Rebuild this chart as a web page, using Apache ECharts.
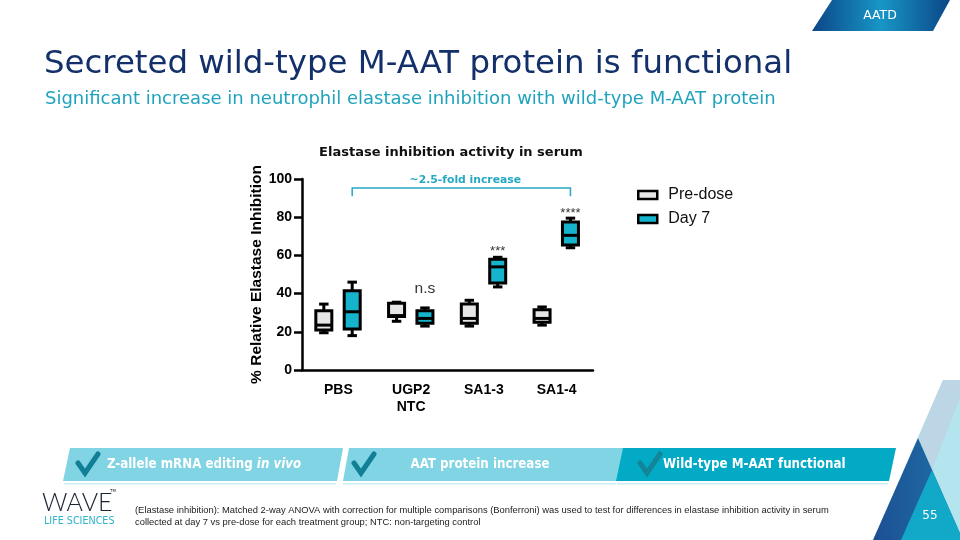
<!DOCTYPE html>
<html><head><meta charset="utf-8">
<script src="https://cdn.jsdelivr.net/npm/echarts@6/dist/echarts.min.js"></script>
<style>html,body{margin:0;padding:0;background:#fff;}#c{width:960px;height:540px;}</style>
</head><body><div id="c"></div>
<script>
// ---- data ----
const categories = ['PBS', 'UGP2\nNTC', 'SA1-3', 'SA1-4'];
const seriesNames = ['Pre-dose', 'Day 7'];
// each row: [min, Q1, median, Q3, max]
const preDose = [[19.5, 21, 23.5, 31, 34.5], [25.5, 28, 28.5, 35, 35.5], [23, 24.5, 27, 34.5, 36.5], [23.5, 25, 27, 31.5, 33]];
const day7 = [[18, 21.5, 30.5, 41.5, 46], [23, 24.5, 27, 31, 32.5], [43.5, 45.5, 54, 58, 59], [64, 65.5, 70.5, 77.5, 79.5]];
const yTicks = [0, 20, 40, 60, 80, 100];
const sigLabels = ['n.s', '***', '****'];
const sigCats = [1, 2, 3];
const sigY = [42.5, 62, 82];
const bracketCats = [0, 3];
const bracketLevels = [95.3, 91];
const bracketLabel = '~2.5-fold increase';
const bracketLabelY = 99.6;

const PRE_FILL = '#e6e6e6', D7_FILL = '#16b3cc', TEAL = '#25a8c2';
const OFF_PRE = -0.2, OFF_D7 = 0.19;

function boxRenderer(offsetFrac, fill) {
  return function (params, api) {
    const cat = api.value(0);
    const band = api.size([1, 0])[0];
    const cx = api.coord([cat, 0])[0] + offsetFrac * band;
    const bw = band * 0.22, cw = band * 0.13;
    const y = i => api.coord([cat, api.value(i)])[1];
    const yMin = y(1), yQ1 = y(2), yMed = y(3), yQ3 = y(4), yMax = y(5);
    const ls = { stroke: '#000', lineWidth: 3 };
    return { type: 'group', children: [
      { type: 'line', shape: { x1: cx, y1: yMax, x2: cx, y2: yQ3 }, style: ls },
      { type: 'line', shape: { x1: cx, y1: yQ1, x2: cx, y2: yMin }, style: ls },
      { type: 'line', shape: { x1: cx - cw / 2, y1: yMax, x2: cx + cw / 2, y2: yMax }, style: ls },
      { type: 'line', shape: { x1: cx - cw / 2, y1: yMin, x2: cx + cw / 2, y2: yMin }, style: ls },
      { type: 'rect', shape: { x: cx - bw / 2, y: yQ3, width: bw, height: yQ1 - yQ3 }, style: { fill: fill, stroke: '#000', lineWidth: 3 } },
      { type: 'line', shape: { x1: cx - bw / 2, y1: yMed, x2: cx + bw / 2, y2: yMed }, style: ls }
    ] };
  };
}

const chart = echarts.init(document.getElementById('c'), null, { renderer: 'canvas' });

const graphics = [
  // top-right tab
  { type: 'polygon', shape: { points: [[812, 31], [832, 0], [950, 0], [933, 31]] },
    style: { fill: new echarts.graphic.LinearGradient(0, 0, 1, 0, [{ offset: 0, color: '#0b4687' }, { offset: 0.5, color: '#1896c6' }, { offset: 1, color: '#0b4687' }]) } },
  { type: 'text', x: 880, y: 16, style: { text: 'AATD', fill: '#fff', font: '12.5px "DejaVu Sans"', align: 'center', verticalAlign: 'middle' } },
  // titles
  { type: 'text', x: 44, y: 65, style: { text: 'Secreted wild-type M-AAT protein is functional', fill: '#13306b', font: '32.4px "DejaVu Sans"', verticalAlign: 'middle' } },
  { type: 'text', x: 45, y: 99, style: { text: 'Significant increase in neutrophil elastase inhibition with wild-type M-AAT protein', fill: '#1fa3bd', font: '18px "DejaVu Sans"', verticalAlign: 'middle' } },
  // right decoration
  { type: 'polygon', shape: { points: [[943, 380], [960, 380], [960, 540], [873, 540]] }, style: { fill: '#b4e4ee' } },
  { type: 'polygon', shape: { points: [[943, 380], [960, 380], [960, 398], [932, 470], [918, 438]] }, style: { fill: '#bcd6e6' } },
  { type: 'polygon', shape: { points: [[918, 438], [873, 540], [963, 540]] }, style: { fill: new echarts.graphic.LinearGradient(0, 0, 1, 0, [{ offset: 0, color: '#1c4f94' }, { offset: 1, color: '#1f74a8' }]) } },
  { type: 'polygon', shape: { points: [[932, 470], [901, 540], [963, 540]] }, style: { fill: '#12a9c8' } },
  { type: 'text', x: 930, y: 516, style: { text: '55', fill: '#fff', font: '12px "DejaVu Sans"', align: 'center', verticalAlign: 'middle' } },
  // banner
  { type: 'polygon', shape: { points: [[70, 448], [343, 448], [337, 481], [63, 481]] }, style: { fill: '#80d4e3' } },
  { type: 'polygon', shape: { points: [[349, 448], [624, 448], [618, 481], [343, 481]] }, style: { fill: '#80d4e3' } },
  { type: 'polygon', shape: { points: [[623, 448], [896, 448], [889, 481], [616, 481]] }, style: { fill: '#03aac6' } },
  { type: 'rect', shape: { x: 64, y: 483, width: 272, height: 1.5 }, style: { fill: '#c8eef5' } },
  { type: 'rect', shape: { x: 343, y: 483, width: 273, height: 1.5 }, style: { fill: '#c8eef5' } },
  { type: 'rect', shape: { x: 617, y: 483, width: 271, height: 1.5 }, style: { fill: '#c8eef5' } },
  { type: 'polyline', shape: { points: [[78, 463], [85, 473], [98, 454]] }, style: { stroke: '#117f95', lineWidth: 5, fill: null, lineCap: 'round', lineJoin: 'miter' } },
  { type: 'polyline', shape: { points: [[354, 463], [361, 473], [374, 454]] }, style: { stroke: '#117f95', lineWidth: 5, fill: null, lineCap: 'round' } },
  { type: 'polyline', shape: { points: [[640, 463], [647, 473], [660, 454]] }, style: { stroke: '#157f90', lineWidth: 5, fill: null, lineCap: 'round', opacity: 0.85 } },
  { type: 'text', x: 107, y: 465, style: { text: '{a|Z-allele mRNA editing }{b|in vivo}', verticalAlign: 'middle',
      rich: { a: { fill: '#fff', font: 'bold 13.2px "DejaVu Sans Condensed"' }, b: { fill: '#fff', font: 'italic bold 13.2px "DejaVu Sans Condensed"' } } } },
  { type: 'text', x: 480, y: 465, style: { text: 'AAT protein increase', fill: '#fff', font: 'bold 13.2px "DejaVu Sans Condensed"', align: 'center', verticalAlign: 'middle' } },
  { type: 'text', x: 663, y: 465, style: { text: 'Wild-type M-AAT functional', fill: '#fff', font: 'bold 13.2px "DejaVu Sans Condensed"', verticalAlign: 'middle' } },
  // logo
  { type: 'text', x: 42, y: 503, style: { text: 'WAVE', fill: '#1b2433', font: '300 25px Lato', verticalAlign: 'middle' } },
  { type: 'text', x: 110, y: 491, style: { text: 'TM', fill: '#1b2433', font: '4px "DejaVu Sans"', verticalAlign: 'middle' } },
  { type: 'text', x: 44, y: 521, style: { text: 'LIFE SCIENCES', fill: '#2fb3c9', font: '9.6px "DejaVu Sans"', verticalAlign: 'middle' } },
  // footnote
  { type: 'text', x: 135, y: 510, style: { text: '(Elastase inhibition): Matched 2-way ANOVA with correction for multiple comparisons (Bonferroni) was used to test for differences in elastase inhibition activity in serum', fill: '#222', font: '9.4px "Liberation Sans"', verticalAlign: 'middle' } },
  { type: 'text', x: 135, y: 522, style: { text: 'collected at day 7 vs pre-dose for each treatment group; NTC: non-targeting control', fill: '#222', font: '9.4px "Liberation Sans"', verticalAlign: 'middle' } }
];

const option = {
  animation: false,
  backgroundColor: '#fff',
  title: { text: 'Elastase inhibition activity in serum', left: 446, top: 141, textAlign: 'center',
    textStyle: { fontFamily: 'DejaVu Sans', fontWeight: 'bold', fontSize: 13, color: '#111' } },
  legend: {
    orient: 'vertical', left: 632, top: 182, itemGap: 8, itemWidth: 19, itemHeight: 8, icon: 'rect',
    textStyle: { fontFamily: 'Liberation Sans', fontSize: 16, color: '#111', padding: [0, 0, 0, 6] },
    itemStyle: { borderColor: '#000', borderWidth: 2.5 },
    data: [
      { name: seriesNames[0], itemStyle: { color: PRE_FILL, borderColor: '#000', borderWidth: 2.5 } },
      { name: seriesNames[1], itemStyle: { color: D7_FILL, borderColor: '#000', borderWidth: 2.5 } }
    ]
  },
  grid: { left: 302, top: 179, width: 291, height: 191, containLabel: false },
  xAxis: {
    type: 'category', data: categories, boundaryGap: true,
    axisLine: { lineStyle: { color: '#000', width: 2.5 } },
    axisTick: { alignWithLabel: true, length: 8, lineStyle: { color: '#000', width: 2.5 } },
    axisLabel: { fontFamily: 'Liberation Sans', fontWeight: 'bold', fontSize: 14, color: '#000', margin: 12, lineHeight: 17 },
    splitLine: { show: false }
  },
  yAxis: {
    type: 'value', min: yTicks[0], max: yTicks[yTicks.length - 1], interval: yTicks[1] - yTicks[0],
    name: '% Relative Elastase Inhibition', nameLocation: 'middle', nameGap: 37,
    nameTextStyle: { fontFamily: 'Liberation Sans', fontWeight: 'bold', fontSize: 15.5, color: '#000' },
    axisLine: { show: true, lineStyle: { color: '#000', width: 2.5 } },
    axisTick: { show: true, length: 8, lineStyle: { color: '#000', width: 2.5 } },
    axisLabel: { fontFamily: 'Liberation Sans', fontWeight: 'bold', fontSize: 14, color: '#000', margin: 10 },
    splitLine: { show: false }
  },
  series: [
    { name: seriesNames[0], type: 'custom', clip: false, itemStyle: { color: PRE_FILL },
      renderItem: boxRenderer(OFF_PRE, PRE_FILL), encode: { x: 0, y: [1, 2, 3, 4, 5] },
      data: preDose.map((d, i) => [i].concat(d)) },
    { name: seriesNames[1], type: 'custom', clip: false, itemStyle: { color: D7_FILL },
      renderItem: boxRenderer(OFF_D7, D7_FILL), encode: { x: 0, y: [1, 2, 3, 4, 5] },
      data: day7.map((d, i) => [i].concat(d)) },
    { name: 'significance', type: 'custom', clip: false, silent: true,
      renderItem: function (params, api) {
        const band = api.size([1, 0])[0];
        const p = api.coord([api.value(0), api.value(1)]);
        const lab = sigLabels[params.dataIndex];
        const isStar = lab.indexOf('*') >= 0;
        return { type: 'text', x: p[0] + OFF_D7 * band, y: p[1],
          style: { text: lab, fill: '#333', font: (isStar ? '13px' : '15.5px') + ' "Liberation Sans"', align: 'center', verticalAlign: 'middle' } };
      },
      encode: { x: 0, y: 1 },
      data: sigCats.map((c, i) => [c, sigY[i]]) },
    { name: 'bracket', type: 'custom', clip: false, silent: true,
      renderItem: function (params, api) {
        const band = api.size([1, 0])[0];
        const x1 = api.coord([api.value(0), 0])[0] + OFF_D7 * band;
        const x2 = api.coord([api.value(1), 0])[0] + OFF_D7 * band;
        const yl = api.coord([0, api.value(2)])[1];
        const yf = api.coord([0, api.value(3)])[1];
        const yt = api.coord([0, api.value(4)])[1];
        return { type: 'group', children: [
          { type: 'polyline', shape: { points: [[x1, yf], [x1, yl], [x2, yl], [x2, yf]] }, style: { stroke: TEAL, lineWidth: 1.5, fill: null } },
          { type: 'text', x: (x1 + x2) / 2 + 4, y: yt, style: { text: bracketLabel, fill: TEAL, font: 'bold 10.8px "DejaVu Sans"', align: 'center', verticalAlign: 'middle' } }
        ] };
      },
      encode: { x: [0, 1], y: [2, 3, 4] },
      data: [[bracketCats[0], bracketCats[1], bracketLevels[0], bracketLevels[1], bracketLabelY]] }
  ],
  graphic: graphics
};
chart.setOption(option);
</script></body></html>
